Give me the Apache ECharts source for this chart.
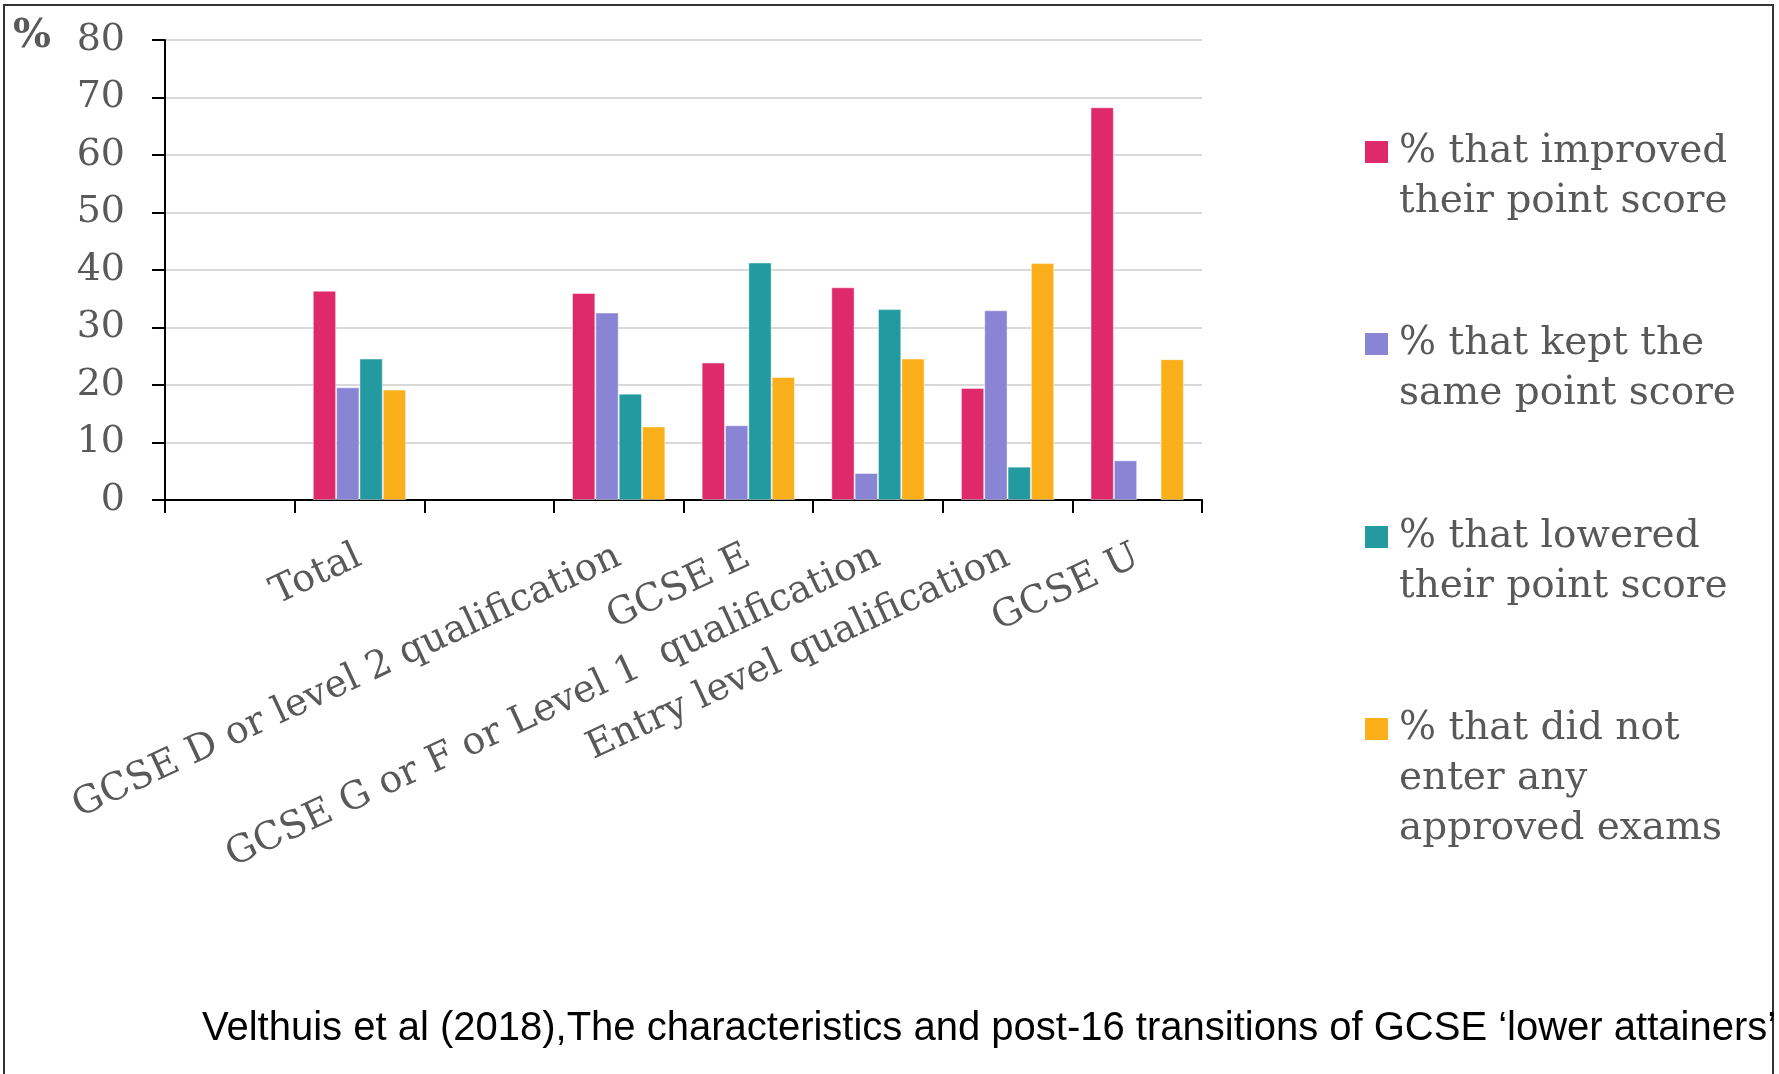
<!DOCTYPE html>
<html>
<head>
<meta charset="utf-8">
<script src="https://cdn.jsdelivr.net/npm/echarts@6/dist/echarts.min.js"></script>
<style>
  html, body { margin: 0; padding: 0; background: #fff; }
  #chart { width: 1779px; height: 1074px; }
</style>
</head>
<body>
<div id="chart"></div>
<script>
// categories (two empty slots, as in the original)
var categories = ['', 'Total', '', 'GCSE D or level 2 qualification', 'GCSE E',
    'GCSE G or F or Level 1  qualification', 'Entry level qualification', 'GCSE U'];

var improved    = [null, 36.4, null, 36.0, 23.9, 37.0, 19.5, 68.3];
var keptSame    = [null, 19.6, null, 32.6, 13.0, 4.7, 33.0, 6.9];
var lowered     = [null, 24.6, null, 18.5, 41.3, 33.2, 5.8, null];
var notEntered  = [null, 19.2, null, 12.8, 21.4, 24.6, 41.2, 24.5];

var seriesNames = ['% that improved\ntheir point score',
    '% that kept the\nsame point score',
    '% that lowered\ntheir point score',
    '% that did not\nenter any\napproved exams'];
var colors = ['#DE2A6B', '#8985D4', '#239AA0', '#FBAF1B'];
var legendCenters = [152, 344, 537, 729];

var font = 'DejaVu Serif';
var textGrey = '#595959';

function padLines(name) {
    // put blank lines above so the first line sits level with the icon
    var n = name.split('\n').length;
    var pre = '';
    for (var i = 1; i < n; i++) pre += '\n';
    return pre + name;
}

var lineH = 50;
var legends = [];
for (var i = 0; i < seriesNames.length; i++) {
    var n = seriesNames[i].split('\n').length;
    var h = (2 * n - 1) * lineH;
    legends.push({
        data: [seriesNames[i]],
        orient: 'vertical',
        left: 1365,
        top: legendCenters[i] - h / 2,
        padding: 0,
        itemWidth: 23,
        itemHeight: 22,
        icon: 'rect',
        itemStyle: { borderWidth: 0 },
        formatter: function (name) { return padLines(name); },
        textStyle: {
            fontFamily: font,
            fontSize: 39,
            color: textGrey,
            lineHeight: lineH,
            padding: [0, 0, 0, 6]
        }
    });
}

var dataSets = [improved, keptSame, lowered, notEntered];
var series = [];
for (var i = 0; i < dataSets.length; i++) {
    series.push({
        name: seriesNames[i],
        type: 'bar',
        data: dataSets[i],
        barGap: '0%',
        barCategoryGap: '28%',
        itemStyle: {
            color: colors[i],
            borderColor: 'rgba(255,255,255,0.45)',
            borderWidth: 1
        }
    });
}

var myChart = echarts.init(document.getElementById('chart'));
var option = {
    backgroundColor: '#fff',
    animation: false,
    title: [{
        text: '%',
        left: 13,
        top: 17,
        padding: 0,
        textStyle: { fontFamily: font, fontSize: 40, fontWeight: 'bold', color: textGrey }
    }, {
        text: 'Velthuis et al (2018),The characteristics and post-16 transitions of GCSE \u2018lower attainers\u2019',
        left: 202,
        top: 1009,
        padding: 0,
        textStyle: { fontFamily: 'Liberation Sans', fontSize: 40, fontWeight: 'normal', color: '#000' }
    }],
    legend: legends,
    grid: {
        left: 165,
        top: 40,
        width: 1037,
        height: 460
    },
    xAxis: {
        type: 'category',
        data: categories,
        axisLine: { lineStyle: { color: '#000', width: 2 } },
        axisTick: { show: true, interval: 0, length: 13, lineStyle: { color: '#000', width: 2 } },
        axisLabel: {
            interval: 0,
            rotate: 25,
            margin: 55,
            fontFamily: font,
            fontSize: 38,
            color: textGrey
        }
    },
    yAxis: {
        type: 'value',
        min: 0,
        max: 80,
        interval: 10,
        axisLine: { show: true, lineStyle: { color: '#000', width: 2 } },
        axisTick: { show: true, length: 13, lineStyle: { color: '#000', width: 2 } },
        axisLabel: { margin: 40, fontFamily: font, fontSize: 38, color: textGrey },
        splitLine: { lineStyle: { color: '#D9D9D9', width: 2 } }
    },
    graphic: [{
        type: 'rect',
        shape: { x: 4, y: 5, width: 1769, height: 1100 },
        style: { fill: null, stroke: '#333', lineWidth: 2 },
        silent: true,
        z: -1
    }],
    series: series
};
myChart.setOption(option);
</script>
</body>
</html>
